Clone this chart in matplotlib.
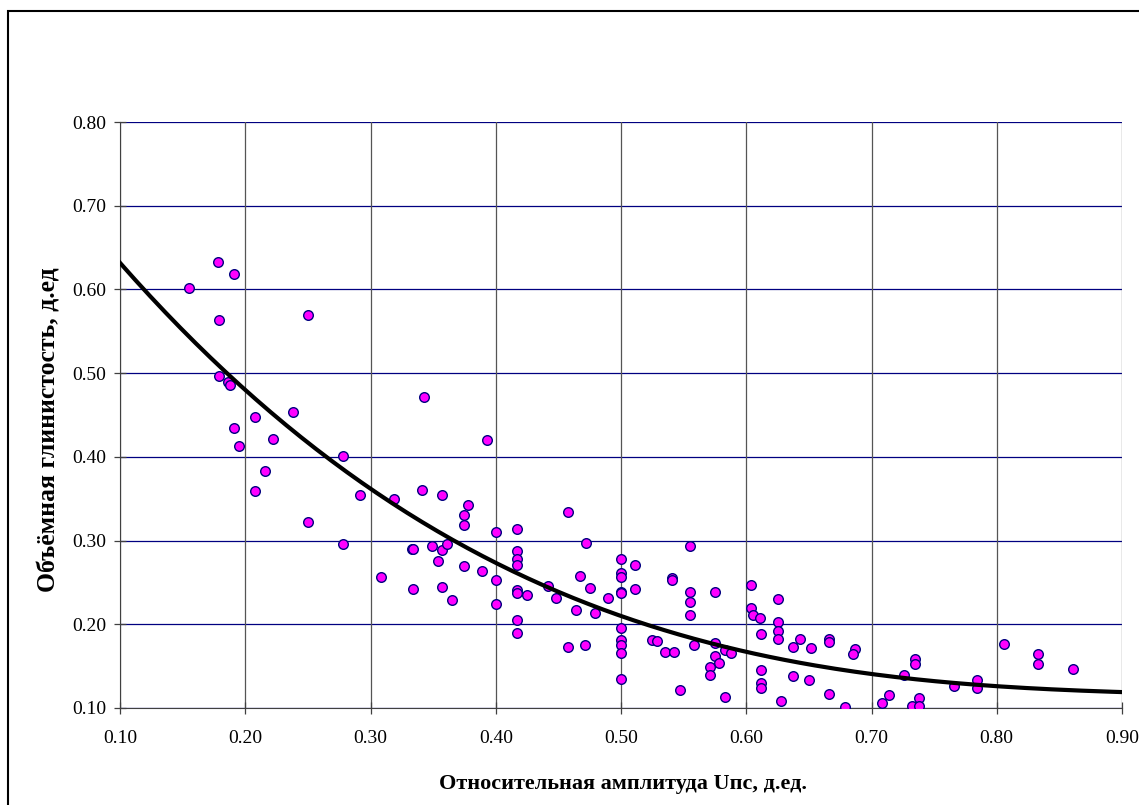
import numpy as np
import matplotlib
matplotlib.use('Agg')
from matplotlib import pyplot as plt
from matplotlib.patches import Rectangle

plt.rcParams['font.family'] = ['Liberation Serif', 'DejaVu Serif']

# points
amp = [0.178, 0.191, 0.155, 0.179, 0.250, 0.179, 0.186, 0.188, 0.208, 0.238,
       0.191, 0.222, 0.195, 0.278, 0.216, 0.208, 0.292, 0.319, 0.250, 0.278,
       0.333, 0.341, 0.343, 0.393, 0.357, 0.378, 0.375, 0.375, 0.400, 0.417,
       0.458, 0.472, 0.334, 0.349, 0.357, 0.361, 0.417, 0.417, 0.417, 0.354,
       0.375, 0.389, 0.400, 0.308, 0.334, 0.357, 0.365, 0.400, 0.417, 0.417,
       0.425, 0.442, 0.448, 0.467, 0.475, 0.464, 0.479, 0.417, 0.417, 0.458,
       0.471, 0.500, 0.500, 0.500, 0.500, 0.500, 0.511, 0.511, 0.490, 0.500,
       0.500, 0.500, 0.500, 0.500, 0.525, 0.529, 0.535, 0.542, 0.541, 0.541,
       0.555, 0.555, 0.555, 0.555, 0.575, 0.558, 0.547, 0.575, 0.583, 0.588,
       0.575, 0.578, 0.571, 0.571, 0.583, 0.604, 0.604, 0.605, 0.611, 0.625,
       0.625, 0.625, 0.625, 0.612, 0.643, 0.637, 0.652, 0.666, 0.666, 0.687,
       0.685, 0.612, 0.612, 0.612, 0.637, 0.650, 0.628, 0.666, 0.679, 0.708,
       0.714, 0.726, 0.735, 0.735, 0.738, 0.732, 0.738, 0.766, 0.784, 0.784,
       0.806, 0.833, 0.833, 0.861]
clay = [0.633, 0.619, 0.602, 0.564, 0.569, 0.497, 0.489, 0.486, 0.448, 0.454,
        0.434, 0.421, 0.413, 0.401, 0.383, 0.359, 0.355, 0.350, 0.322, 0.296,
        0.290, 0.361, 0.471, 0.420, 0.354, 0.342, 0.330, 0.319, 0.310, 0.314,
        0.334, 0.297, 0.290, 0.293, 0.289, 0.296, 0.288, 0.278, 0.271, 0.276,
        0.270, 0.264, 0.253, 0.256, 0.242, 0.244, 0.229, 0.224, 0.241, 0.237,
        0.235, 0.246, 0.231, 0.258, 0.243, 0.217, 0.214, 0.205, 0.190, 0.173,
        0.175, 0.278, 0.261, 0.257, 0.239, 0.237, 0.271, 0.242, 0.231, 0.196,
        0.181, 0.175, 0.166, 0.135, 0.181, 0.180, 0.167, 0.167, 0.255, 0.253,
        0.293, 0.239, 0.227, 0.211, 0.238, 0.175, 0.122, 0.178, 0.169, 0.166,
        0.162, 0.154, 0.149, 0.140, 0.113, 0.247, 0.220, 0.211, 0.208, 0.230,
        0.203, 0.192, 0.182, 0.188, 0.182, 0.173, 0.172, 0.182, 0.179, 0.171,
        0.164, 0.145, 0.130, 0.124, 0.138, 0.133, 0.108, 0.117, 0.101, 0.106,
        0.116, 0.139, 0.159, 0.153, 0.112, 0.102, 0.102, 0.126, 0.133, 0.124,
        0.176, 0.165, 0.152, 0.146]

# cubic trend line, coefficients (highest power first)
trend_coef = [-0.73035, 2.12987, -2.10623, 0.82185]

xticks = [0.10, 0.20, 0.30, 0.40, 0.50, 0.60, 0.70, 0.80, 0.90]
yticks = [0.10, 0.20, 0.30, 0.40, 0.50, 0.60, 0.70, 0.80]

fig = plt.figure(figsize=(11.39, 8.05), dpi=100)
ax = fig.add_axes([120/1139, 1-708/805, 1002/1139, 586/805])

# chart area frame (runs off the right and bottom edge)
fig.patches.append(Rectangle((8/1139, -0.1), 1.2, 1-11/805+0.1, transform=fig.transFigure,
                             fill=False, ec='black', lw=1.5))

for v in yticks:
    ax.axhline(v, color='#000080', lw=0.9, zorder=1)
for v in xticks:
    ax.axvline(v, color='#555555', lw=0.9, zorder=1)

ax.scatter(amp, clay, s=48, c='#FF00FF', edgecolors='#000080', linewidths=1.0, zorder=3)

xs = np.linspace(xticks[0], xticks[-1], 200)
ax.plot(xs, np.polyval(trend_coef, xs), color='black', lw=3, zorder=4)

ax.set_xlim(0.1, 0.9)
ax.set_ylim(0.1, 0.8)
ax.set_xticks(xticks)
ax.set_yticks(yticks)
ax.set_xticklabels(['%.2f' % v for v in xticks])
ax.set_yticklabels(['%.2f' % v for v in yticks])
ax.tick_params(direction='inout', length=8, width=0.9, labelsize=14, color='#404040')
ax.tick_params(axis='x', pad=12)
ax.tick_params(axis='y', pad=6)
for s in ['top', 'right']:
    ax.spines[s].set_visible(False)
ax.spines['left'].set_color('#404040')
ax.spines['bottom'].set_color('#404040')

fig.text(623/1139, 1-784/805, 'Относительная амплитуда Uпс, д.ед.', ha='center', va='center',
         fontsize=16, fontweight='bold')
fig.text(49/1139, 1-430/805, 'Объёмная глинистость, д.ед', ha='center', va='center',
         rotation=90, fontsize=18.5, fontweight='bold')

fig.savefig('out.png', dpi=100)
